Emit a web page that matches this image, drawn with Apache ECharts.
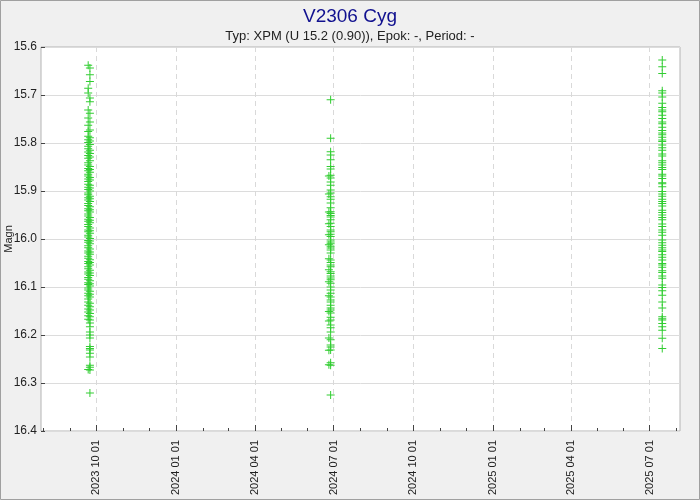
<!DOCTYPE html>
<html><head><meta charset="utf-8">
<script src="https://cdn.jsdelivr.net/npm/echarts@6/dist/echarts.min.js"></script>
<style>html,body{margin:0;padding:0;background:#f0f0f0}#c{width:700px;height:500px}</style>
</head><body><div id="c"></div>
<script>
// ---- data ----
const titleText = 'V2306 Cyg';
const subtitleText = 'Typ: XPM (U 15.2 (0.90)), Epok: -, Period: -';
const yAxisName = 'Magn';
const xRange = ['2023-07-29', '2025-08-05'];
const majorTickDates = ['2023-10-01', '2024-01-01', '2024-04-01', '2024-07-01', '2024-10-01', '2025-01-01', '2025-04-01', '2025-07-01'];
const minorTickDates = ['2023-08-01', '2023-09-01', '2023-10-01', '2023-11-01', '2023-12-01', '2024-01-01', '2024-02-01', '2024-03-01', '2024-04-01', '2024-05-01', '2024-06-01', '2024-07-01', '2024-08-01', '2024-09-01', '2024-10-01', '2024-11-01', '2024-12-01', '2025-01-01', '2025-02-01', '2025-03-01', '2025-04-01', '2025-05-01', '2025-06-01', '2025-07-01', '2025-08-01'];
const yTicks = [15.6, 15.7, 15.8, 15.9, 16.0, 16.1, 16.2, 16.3, 16.4];

const nightDates = ['2023-09-21', '2023-09-23', '2024-06-25', '2024-06-27', '2025-07-15'];
const magsNight1 = [15.638, 15.686, 15.696, 15.731, 15.748, 15.763, 15.776, 15.786, 15.793, 15.799, 15.807, 15.812, 15.819, 15.826, 15.832, 15.841, 15.846, 15.853, 15.858, 15.865, 15.869, 15.875, 15.880, 15.886, 15.892, 15.897, 15.904, 15.908, 15.914, 15.919, 15.926, 15.930, 15.937, 15.941, 15.948, 15.952, 15.959, 15.963, 15.970, 15.974, 15.981, 15.985, 15.992, 15.996, 16.003, 16.007, 16.014, 16.018, 16.025, 16.029, 16.036, 16.040, 16.047, 16.051, 16.058, 16.062, 16.069, 16.073, 16.080, 16.084, 16.091, 16.095, 16.102, 16.106, 16.113, 16.118, 16.125, 16.131, 16.138, 16.146, 16.152, 16.160, 16.167, 16.272];
const magsNight2 = [15.644, 15.658, 15.672, 15.706, 15.714, 15.738, 15.756, 15.773, 15.789, 15.796, 15.803, 15.815, 15.822, 15.829, 15.837, 15.849, 15.855, 15.861, 15.872, 15.877, 15.888, 15.894, 15.900, 15.911, 15.916, 15.922, 15.933, 15.939, 15.944, 15.955, 15.961, 15.966, 15.977, 15.983, 15.988, 15.999, 16.004, 16.010, 16.021, 16.027, 16.032, 16.043, 16.049, 16.054, 16.065, 16.071, 16.076, 16.087, 16.093, 16.098, 16.109, 16.115, 16.121, 16.134, 16.141, 16.148, 16.155, 16.162, 16.169, 16.175, 16.183, 16.194, 16.200, 16.206, 16.224, 16.228, 16.231, 16.238, 16.246, 16.263, 16.267, 16.273, 16.321];
const magsNight3 = [15.869, 15.906, 15.944, 15.968, 15.991, 16.012, 16.041, 16.064, 16.089, 16.118, 16.151, 16.171, 16.206, 16.232, 16.262];
const magsNight4 = [15.710, 15.790, 15.818, 15.825, 15.835, 15.849, 15.854, 15.867, 15.873, 15.881, 15.888, 15.898, 15.904, 15.912, 15.917, 15.925, 15.935, 15.943, 15.947, 15.951, 15.954, 15.960, 15.967, 15.974, 15.981, 15.985, 15.990, 15.995, 16.002, 16.006, 16.010, 16.015, 16.019, 16.023, 16.029, 16.044, 16.049, 16.054, 16.058, 16.068, 16.072, 16.077, 16.081, 16.085, 16.092, 16.100, 16.106, 16.113, 16.121, 16.127, 16.131, 16.138, 16.144, 16.148, 16.154, 16.163, 16.169, 16.179, 16.185, 16.194, 16.210, 16.221, 16.225, 16.231, 16.258, 16.263, 16.325];
const magsNight5 = [15.627, 15.641, 15.655, 15.691, 15.696, 15.704, 15.717, 15.726, 15.731, 15.735, 15.742, 15.749, 15.756, 15.760, 15.767, 15.774, 15.779, 15.783, 15.788, 15.794, 15.797, 15.804, 15.810, 15.815, 15.823, 15.827, 15.837, 15.841, 15.846, 15.851, 15.855, 15.865, 15.869, 15.874, 15.883, 15.885, 15.891, 15.901, 15.906, 15.911, 15.917, 15.922, 15.926, 15.931, 15.940, 15.945, 15.950, 15.955, 15.960, 15.969, 15.974, 15.981, 15.986, 15.992, 16.002, 16.008, 16.013, 16.018, 16.023, 16.026, 16.033, 16.038, 16.044, 16.051, 16.054, 16.059, 16.066, 16.070, 16.077, 16.082, 16.096, 16.101, 16.108, 16.117, 16.131, 16.144, 16.162, 16.166, 16.169, 16.176, 16.183, 16.190, 16.207, 16.228];
const magsByNight = [magsNight1, magsNight2, magsNight3, magsNight4, magsNight5];

// ---- chart ----
const FONT = '"Liberation Sans", Arial, sans-serif';
const GREEN = '#32cd32';
const ts = s => Date.parse(s + 'T00:00:00Z');
const pad2 = n => String(n).padStart(2, '0');
const fmtDate = v => { const d = new Date(v); return d.getUTCFullYear() + ' ' + pad2(d.getUTCMonth() + 1) + ' ' + pad2(d.getUTCDate()); };
const plusSymbol = 'path://M3.5,0h1v8h-1zM0,3.5h8v1h-8z';

const series = nightDates.map((d, i) => ({
  type: 'scatter',
  xAxisIndex: 0,
  symbol: plusSymbol,
  symbolSize: 8,
  itemStyle: { color: GREEN, opacity: 1 },
  data: magsByNight[i].map(m => [ts(d) + 12 * 3600e3, m]),
  silent: true
}));

const chart = echarts.init(document.getElementById('c'), null, { renderer: 'canvas' });
chart.setOption({
  animation: false,
  backgroundColor: '#f0f0f0',
  textStyle: { fontFamily: FONT },
  title: [
    { text: titleText, left: 'center', top: 2, textStyle: { fontFamily: FONT, fontSize: 19, fontWeight: 'normal', color: '#10108f' } },
    { text: subtitleText, left: 'center', top: 25, textStyle: { fontFamily: FONT, fontSize: 13, fontWeight: 'normal', color: '#222' } }
  ],
  graphic: [{ type: 'rect', shape: { x: 0.5, y: 0.5, width: 699, height: 499 }, style: { fill: 'none', stroke: '#a0a0a0', lineWidth: 1 }, silent: true }],
  grid: { left: 41, top: 47, width: 639, height: 384, show: true, backgroundColor: '#fff', borderColor: '#b4b4b4', borderWidth: 1, outerBoundsMode: 'none', containLabel: false },
  xAxis: [
    {
      type: 'value', min: ts(xRange[0]), max: ts(xRange[1]),
      axisLine: { show: false },
      axisTick: { show: true, inside: true, length: 6, customValues: majorTickDates.map(ts), lineStyle: { color: '#444' } },
      axisLabel: { show: true, customValues: majorTickDates.map(ts), rotate: 90, margin: 9, fontSize: 11, fontFamily: FONT, color: '#222', formatter: v => fmtDate(v) },
      splitLine: { show: true, lineStyle: { color: '#d9d9d9', type: [5, 4], width: 1 } }
    },
    {
      type: 'value', min: ts(xRange[0]), max: ts(xRange[1]), position: 'bottom',
      axisLine: { show: false },
      axisTick: { show: true, inside: true, length: 3, customValues: minorTickDates.map(ts), lineStyle: { color: '#444' } },
      axisLabel: { show: false },
      splitLine: { show: false }
    }
  ],
  yAxis: {
    type: 'value', inverse: true, min: yTicks[0], max: yTicks[yTicks.length - 1], interval: 0.1,
    name: yAxisName, nameLocation: 'middle', nameGap: 27, nameRotate: 90, nameMoveOverlap: false,
    nameTextStyle: { fontFamily: FONT, fontSize: 11, color: '#222' },
    axisLine: { show: false },
    axisTick: { show: true, inside: true, length: 4, lineStyle: { color: '#444' } },
    axisLabel: { fontSize: 12, fontFamily: FONT, color: '#222', margin: 4, formatter: v => v.toFixed(1) },
    splitLine: { show: true, lineStyle: { color: '#dcdcdc', width: 1 } }
  },
  series: series
});
</script></body></html>
